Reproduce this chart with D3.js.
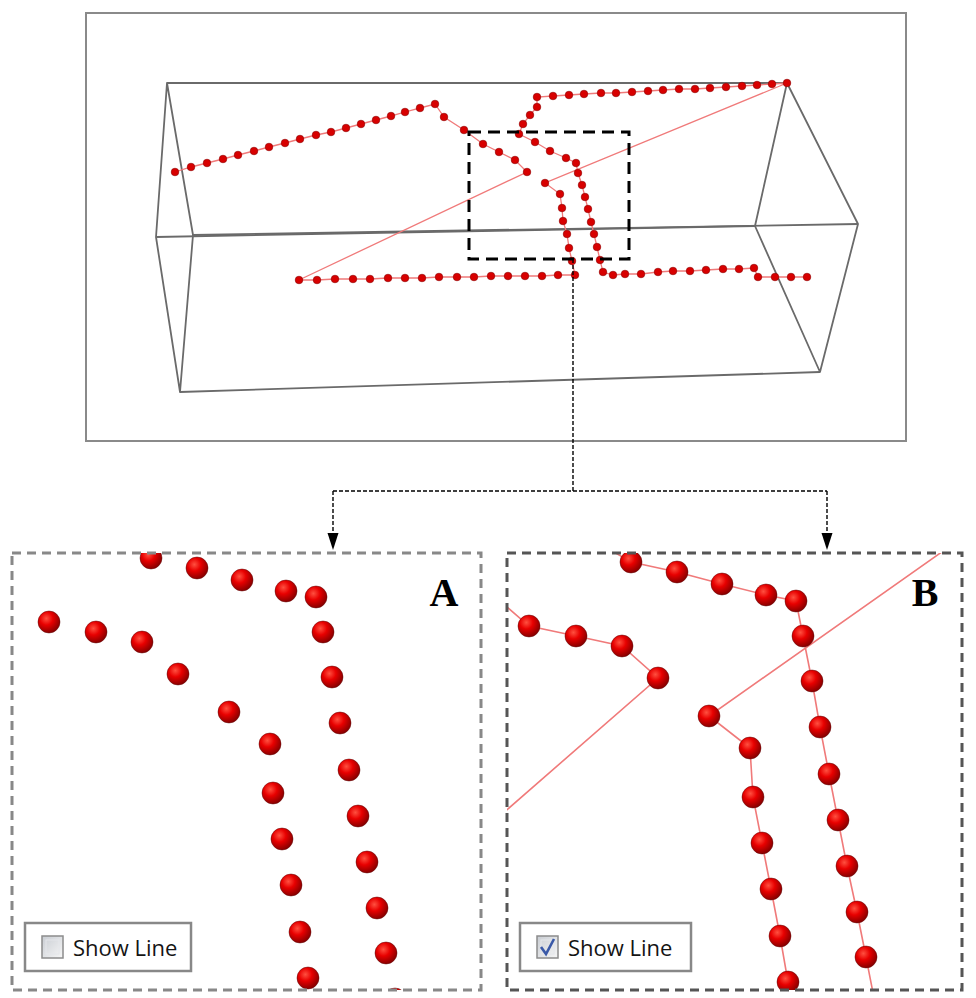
<!DOCTYPE html>
<html lang="en">
<head>
<meta charset="UTF-8">
<title>Show Line</title>
<style>
    body { margin: 0; background: #fff; }
    svg { display: block; }
    .frame { fill: none; stroke: #8a8a8a; stroke-width: 2px; }
    .box { fill: none; stroke: #6a6a6a; stroke-width: 1.8px; stroke-linejoin: round; }
    .track { fill: none; stroke: #f07a7a; stroke-width: 1.3px; }
    .dot { fill: #d80000; stroke: #8b0000; stroke-width: 0.6px; }
    .zoom-rect { fill: none; stroke: #000; stroke-width: 3px; stroke-dasharray: 12,7; }
    .connector { fill: none; stroke: #000; stroke-width: 1.4px; stroke-dasharray: 4,2; }
    .panel-frame { fill: none; stroke-width: 3px; stroke-dasharray: 9,6; }
    .panel-line { fill: none; stroke: #f07a7a; stroke-width: 1.6px; }
    .ball { fill: url(#ball); stroke: #5a0000; stroke-width: 0.8px; stroke-opacity: 0.6; }
    .label { font: bold 40px "Liberation Serif", serif; text-anchor: middle; }
    .check-box { fill: #fff; stroke: #888; stroke-width: 2.5px; }
    .check-text { font: 22px "Open Sans", sans-serif; fill: #141414; }
</style>
</head>
<body>
<svg width="976" height="998"></svg>
<script src="https://cdnjs.cloudflare.com/ajax/libs/d3/7.8.5/d3.min.js"></script>
<script>
    // wireframe box ends: top, left, bottom, right corner
    let boxLeftEnd = [[167, 83], [156, 237], [180, 392], [193, 235]];
    let boxRightEnd = [[787, 83], [755, 226], [820, 372], [858, 224]];

    // trajectory in the overview, in drawing order
    let trackPoints = [
        [175, 172], [191, 167], [207, 163], [223, 159], [238, 155], [254, 151], [269, 147], [285, 143],
        [300, 139], [316, 135], [331, 132], [346, 128], [361, 124], [376, 120], [391, 116], [405, 112],
        [420, 108], [435, 104], [444, 117], [464, 130], [483, 144], [499, 152], [515, 160], [527, 172],
        [299, 280], [317, 280], [335, 279], [353, 279], [370, 279], [388, 278], [405, 278], [422, 278],
        [439, 277], [457, 277], [474, 277], [491, 276], [508, 276], [525, 276], [542, 276], [558, 275],
        [575, 275], [572, 261], [569, 248], [567, 234], [563, 221], [562, 208], [560, 194], [545, 183],
        [787, 83], [772, 84], [757, 85], [742, 86], [726, 87], [710, 88], [695, 89], [679, 89],
        [663, 90], [648, 91], [632, 92], [616, 93], [601, 93], [584, 94], [569, 95], [553, 96],
        [537, 97], [537, 107], [530, 115], [523, 124], [519, 134], [535, 142], [550, 151], [566, 158],
        [576, 163], [578, 173], [582, 185], [585, 197], [588, 209], [591, 222], [594, 234], [597, 247],
        [600, 260], [603, 272], [613, 275], [625, 274], [641, 274], [658, 272], [673, 271], [690, 271],
        [706, 270], [723, 269], [739, 269], [754, 268], [758, 277], [775, 277], [791, 277], [807, 277]
    ];

    // zoomed region [x0, y0, x1, y1]
    let zoomRegion = [469, 132, 629, 259];

    // zoomed views, panel-local units
    let zoomLeftChain = [[-22, 18], [37, 69], [84, 79], [130, 89], [166, 121], [-281, 511]];
    let zoomMidChain = [[306, 480], [296, 425], [288, 379], [279, 332], [270, 286], [261, 240],
        [258, 191], [217, 159], [674, -163]];
    let zoomRightChain = [[93, -22], [139, 5], [185, 15], [230, 27], [274, 38], [304, 44], [311, 79],
        [320, 124], [328, 170], [337, 217], [346, 263], [355, 309], [365, 355], [374, 400], [383, 446],
        [394, 505]];

    let panelNames = ["A", "B"];
    let panelShowLine = [false, true];

    let svg = d3.select("svg");
    let defs = svg.append("defs");

    let grad = defs.append("radialGradient").attr("id", "ball")
        .attr("cx", "38%").attr("cy", "34%").attr("r", "66%");
    grad.append("stop").attr("offset", "0%").attr("stop-color", "#ff5040");
    grad.append("stop").attr("offset", "45%").attr("stop-color", "#e80000");
    grad.append("stop").attr("offset", "100%").attr("stop-color", "#8a0000");

    let boxGrad = defs.append("linearGradient").attr("id", "cb")
        .attr("x1", "0").attr("y1", "0").attr("x2", "1").attr("y2", "1");
    boxGrad.append("stop").attr("offset", "0%").attr("stop-color", "#c9cdd3");
    boxGrad.append("stop").attr("offset", "100%").attr("stop-color", "#f6f6f6");

    // ---- overview ----
    let xTop = d3.scaleLinear().domain([86, 906]).range([86, 906]),
        yTop = d3.scaleLinear().domain([13, 441]).range([13, 441]);

    let line = d3.line()
        .x(function (d) { return xTop(d[0]); })
        .y(function (d) { return yTop(d[1]); });

    svg.append("rect").attr("class", "frame")
        .attr("x", xTop(86)).attr("y", yTop(13))
        .attr("width", xTop(906) - xTop(86)).attr("height", yTop(441) - yTop(13));

    let overview = svg.append("g");

    overview.selectAll(".end")
        .data([boxLeftEnd, boxRightEnd])
        .enter().append("path")
        .attr("class", "box")
        .attr("d", function (d) { return line(d) + "Z"; });

    overview.selectAll(".edge")
        .data(d3.range(4))
        .enter().append("path")
        .attr("class", "box")
        .attr("d", function (i) { return line([boxLeftEnd[i], boxRightEnd[i]]); });

    overview.append("path").attr("class", "track").attr("d", line(trackPoints));

    overview.selectAll(".dot")
        .data(trackPoints)
        .enter().append("circle")
        .attr("class", "dot")
        .attr("r", 3.8)
        .attr("cx", function (d) { return xTop(d[0]); })
        .attr("cy", function (d) { return yTop(d[1]); });

    overview.append("rect").attr("class", "zoom-rect")
        .attr("x", xTop(zoomRegion[0])).attr("y", yTop(zoomRegion[1]))
        .attr("width", xTop(zoomRegion[2]) - xTop(zoomRegion[0]))
        .attr("height", yTop(zoomRegion[3]) - yTop(zoomRegion[1]));

    // ---- connectors ----
    let cx = 573, forkY = 491, arrowL = 333, arrowR = 827, tipY = 550;
    svg.append("path").attr("class", "connector")
        .attr("d", "M" + cx + "," + yTop(zoomRegion[3]) + "V" + forkY +
            "M" + arrowL + "," + forkY + "H" + arrowR +
            "M" + arrowL + "," + forkY + "V" + (tipY - 14) +
            "M" + arrowR + "," + forkY + "V" + (tipY - 14));
    svg.selectAll(".arrow")
        .data([arrowL, arrowR])
        .enter().append("path")
        .attr("d", function (x) {
            return "M" + (x - 5.5) + "," + (tipY - 17) + "L" + (x + 5.5) + "," + (tipY - 17) + "L" + x + "," + tipY + "Z";
        })
        .attr("fill", "#000");

    // ---- zoomed panels ----
    let panelFrames = [[12, 553, 481, 990], [507, 553, 962, 990]];
    let panelOrigins = [[12, 553], [492, 557]];
    let panelStroke = ["#888", "#555"];

    panelNames.forEach(function (name, i) {
        let f = panelFrames[i], o = panelOrigins[i];
        let xs = d3.scaleLinear().domain([0, 1]).range([o[0], o[0] + 1]),
            ys = d3.scaleLinear().domain([0, 1]).range([o[1], o[1] + 1]);
        let pline = d3.line()
            .x(function (d) { return xs(d[0]); })
            .y(function (d) { return ys(d[1]); });

        defs.append("clipPath").attr("id", "clip" + name)
            .append("rect")
            .attr("x", f[0]).attr("y", f[1])
            .attr("width", f[2] - f[0]).attr("height", f[3] - f[1]);

        let g = svg.append("g").attr("clip-path", "url(#clip" + name + ")");
        let chains = [zoomLeftChain, zoomMidChain, zoomRightChain];

        if (panelShowLine[i]) {
            g.selectAll(".panel-line")
                .data(chains)
                .enter().append("path")
                .attr("class", "panel-line")
                .attr("d", function (d) { return pline(d); });
        }

        g.selectAll(".ball")
            .data(d3.merge(chains))
            .enter().append("circle")
            .attr("class", "ball")
            .attr("r", 11)
            .attr("cx", function (d) { return xs(d[0]); })
            .attr("cy", function (d) { return ys(d[1]); });

        svg.append("rect").attr("class", "panel-frame")
            .attr("stroke", panelStroke[i])
            .attr("x", f[0]).attr("y", f[1])
            .attr("width", f[2] - f[0]).attr("height", f[3] - f[1]);

        svg.append("text").attr("class", "label")
            .attr("x", f[2] - 37).attr("y", 606)
            .text(name);

        // checkbox control
        let bx = f[0] + 13, by = 923;
        let cb = svg.append("g");
        cb.append("rect").attr("class", "check-box")
            .attr("x", bx).attr("y", by).attr("width", i ? 171 : 166).attr("height", 48);
        cb.append("rect")
            .attr("x", bx + 17).attr("y", by + 13).attr("width", 21).attr("height", 22)
            .attr("fill", "url(#cb)").attr("stroke", "#8c8c8c").attr("stroke-width", 1.5);
        cb.append("rect")
            .attr("x", bx + 21).attr("y", by + 17).attr("width", 13).attr("height", 14)
            .attr("fill", "none").attr("stroke", "#e4e6ea").attr("stroke-width", 1);
        if (panelShowLine[i]) {
            cb.append("path")
                .attr("d", "M" + (bx + 21) + "," + (by + 24) + "L" + (bx + 26) + "," + (by + 31) + "L" + (bx + 34) + "," + (by + 16))
                .attr("fill", "none").attr("stroke", "#3a59a8").attr("stroke-width", 2.6);
        }
        cb.append("text").attr("class", "check-text")
            .attr("x", bx + 48).attr("y", by + 33)
            .text("Show Line");
    });
</script>
</body>
</html>
